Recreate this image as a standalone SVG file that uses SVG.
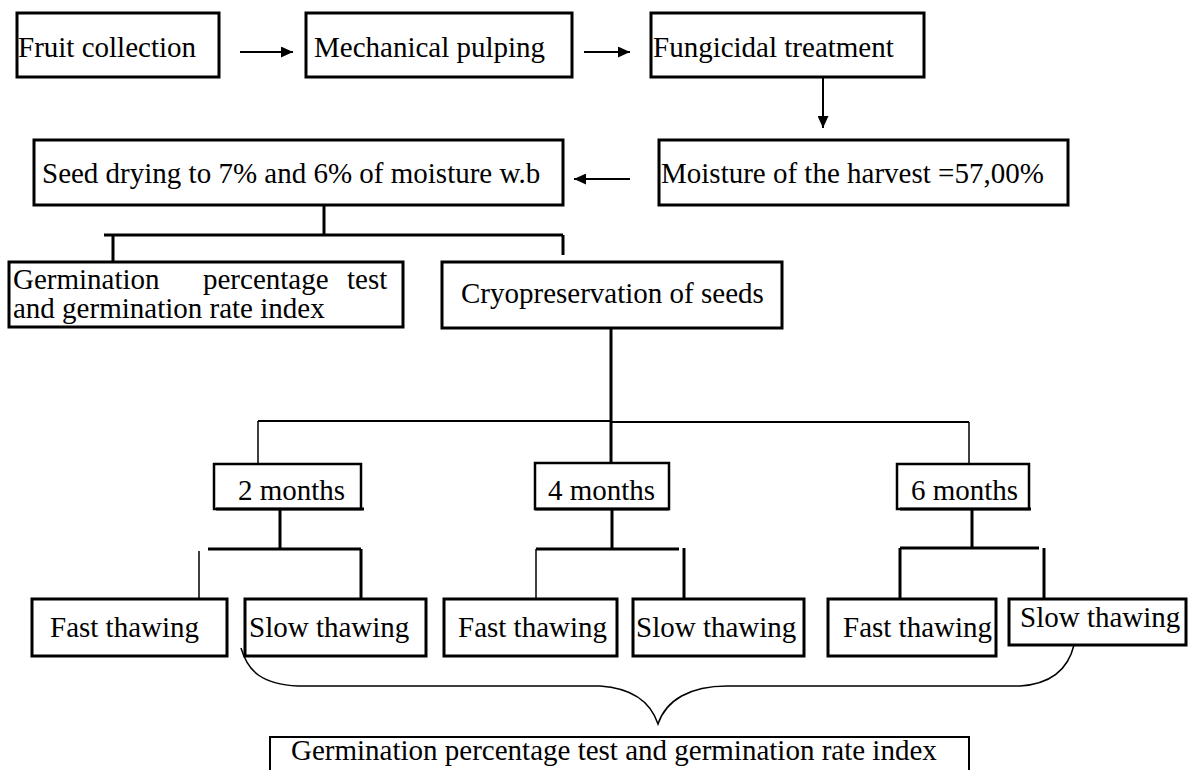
<svg xmlns="http://www.w3.org/2000/svg" width="1188" height="770" viewBox="0 0 1188 770">
<style>
.box{fill:#fff;stroke:#000;stroke-width:3}
.mbox{fill:#fff;stroke:#000;stroke-width:2.5}
text{font-family:'Liberation Serif','Times New Roman',Times,'DejaVu Serif',serif;font-size:29px;fill:#000}
.c{fill:none;stroke:#000;stroke-width:3}
.m{fill:none;stroke:#000;stroke-width:2}
.thin{fill:none;stroke:#000;stroke-width:1.5}
.ar{fill:none;stroke:#000;stroke-width:2;marker-end:url(#ah)}
</style>
<defs>
<marker id="ah" markerWidth="6" markerHeight="5.5" refX="6" refY="2.75" orient="auto" markerUnits="strokeWidth"><path d="M0,0L6,2.75L0,5.5z" fill="#000"/></marker>
</defs>
<g id="connectors">
<path class="ar" d="M240,52H293"/>
<path class="ar" d="M584,52H630"/>
<path class="ar" d="M823,77V128"/>
<path class="ar" d="M630,179H574"/>
<path class="c" d="M324,205V235M104,235H563M113,235V262M563,235V255"/>
<path class="c" d="M611,328V463"/>
<path class="m" d="M258,421H611M612,422H969"/>
<path class="thin" d="M258,421V466M969,422V466"/>
<path class="c" d="M280,509V549M208,549H361M361,549V600"/>
<path class="thin" d="M199,551V600"/>
<path class="c" d="M612,509V549M536,549H679M684,548V600"/>
<path class="thin" d="M536,549V600"/>
<path class="c" d="M972,509V548M900,548H1039M900,548V600M1044,548V599"/>
<path class="thin" d="M241,648C248,672 262,684 298,686H600C630,688 650,700 658,724C666,700 690,686 727,686H1020C1050,684 1068,670 1074,645"/>
</g>
<g id="n1"><rect class="box" x="17" y="13" width="202" height="64"/><text x="18" y="57">Fruit collection</text></g>
<g id="n2"><rect class="box" x="306" y="13" width="266" height="64"/><text x="314" y="57">Mechanical pulping</text></g>
<g id="n3"><rect class="box" x="651" y="13" width="273" height="64"/><text x="653" y="57">Fungicidal treatment</text></g>
<g id="n4"><rect class="box" x="659" y="140" width="409" height="65"/><text x="661" y="183">Moisture of the harvest =57,00%</text></g>
<g id="n5"><rect class="box" x="34" y="140" width="529" height="65"/><text x="42" y="183">Seed drying to 7% and 6% of moisture w.b</text></g>
<g id="n6"><rect class="box" x="9" y="262" width="394" height="65"/><text y="289"><tspan x="13">Germination</tspan><tspan x="203">percentage</tspan><tspan x="347">test</tspan></text><text x="13" y="318">and germination rate index</text></g>
<g id="n7"><rect class="box" x="442" y="262" width="340" height="66"/><text x="461" y="303">Cryopreservation of seeds</text></g>
<g id="n8"><rect class="mbox" x="214" y="464" width="147" height="45"/><path class="c" d="M216,509H364"/><text x="238" y="500">2 months</text></g>
<g id="n9"><rect class="mbox" x="535" y="463" width="134" height="46"/><path class="c" d="M535,509H669"/><text x="548" y="500">4 months</text></g>
<g id="n10"><rect class="mbox" x="897" y="464" width="132" height="45"/><path class="c" d="M900,509H1031"/><text x="911" y="500">6 months</text></g>
<g id="n11"><rect class="box" x="32" y="599" width="195" height="57"/><text x="50" y="637">Fast thawing</text></g>
<g id="n12"><rect class="box" x="245" y="599" width="181" height="57"/><text x="249" y="637">Slow thawing</text></g>
<g id="n13"><rect class="box" x="444" y="599" width="173" height="57"/><text x="458" y="637">Fast thawing</text></g>
<g id="n14"><rect class="box" x="633" y="599" width="171" height="57"/><text x="636" y="637">Slow thawing</text></g>
<g id="n15"><rect class="box" x="828" y="599" width="168" height="57"/><text x="843" y="637">Fast thawing</text></g>
<g id="n16"><rect class="box" x="1009" y="599" width="177" height="46"/><text x="1020" y="627">Slow thawing</text></g>
<g id="n17"><path class="m" d="M270,770V737H969V770"/><text x="291" y="760">Germination percentage test and germination rate index</text></g>
</svg>
